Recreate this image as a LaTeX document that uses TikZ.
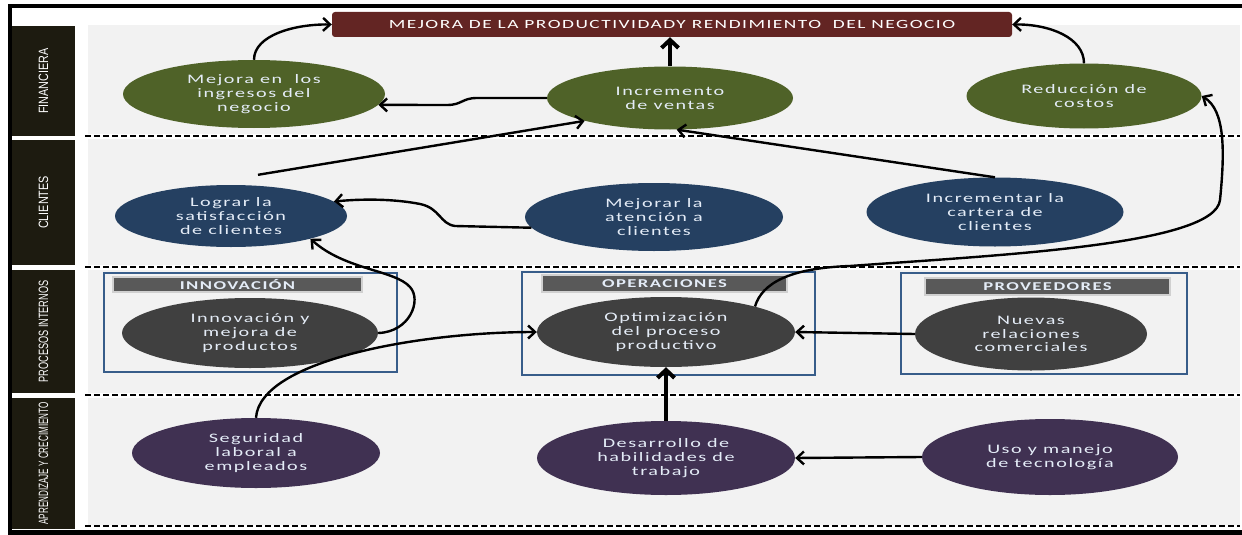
\documentclass[tikz,border=0pt]{standalone}
\usepackage{fontspec}
\setmainfont{Carlito}
\newfontfamily\efont[FakeStretch=1.55,LetterSpace=12]{Carlito}
\newfontfamily\lfont[FakeStretch=0.8]{Liberation Sans}
\usetikzlibrary{shapes.geometric,arrows.meta}
\definecolor{ctitle}{HTML}{632523}
\definecolor{cgreen}{HTML}{4F6228}
\definecolor{cblue}{HTML}{254061}
\definecolor{cgray}{HTML}{404040}
\definecolor{cpurple}{HTML}{403152}
\definecolor{clab}{HTML}{1D1B10}
\definecolor{cpanel}{HTML}{F2F2F2}
\definecolor{cbox}{HTML}{385D8A}
\definecolor{chead}{HTML}{595959}
\definecolor{cheadline}{HTML}{D0D0D0}
\definecolor{ctext}{HTML}{E4ECF7}
\tikzset{
  ell/.style={ellipse, draw=none, inner sep=0pt, text=ctext, align=center,
    font=\efont\fontsize{13}{13.8}\selectfont},
  gell/.style={ell, fill=cgreen},
  bell/.style={ell, fill=cblue},
  kell/.style={ell, fill=cgray},
  pell/.style={ell, fill=cpurple},
  lab/.style={rotate=90, fill=clab, text=white, inner sep=0pt,
    font=\lfont\fontsize{13.5}{13.5}\selectfont},
  panel/.style={fill=cpanel, draw=none},
  sep/.style={line width=2.6pt, dash pattern=on 5.5pt off 3.5pt},
  gbox/.style={draw=cbox, line width=2.6pt, fill=none, inner sep=0pt},
  ghead/.style={draw=cheadline, line width=1.5pt, fill=chead, text=ctext, inner sep=0pt,
    font=\efont\bfseries\fontsize{12}{12}\selectfont},
  ttl/.style={rounded corners=3pt, fill=ctitle, text=white, inner sep=0pt,
    font=\efont\fontsize{12.5}{13}\selectfont},
  arr/.style={line width=2.4pt, -{Straight Barb[length=7pt,width=13pt]}},
  tarr/.style={line width=4pt, -{Straight Barb[length=8pt,width=17pt]}}
}
\begin{document}
\begin{tikzpicture}[x=1pt,y=-1pt]
\useasboundingbox (0,0) rectangle (1242,535);
% frame
\fill[white] (0,0) rectangle (1242,535);
\fill[black] (8,4) rectangle (1242,8);
\fill[black] (8,4) rectangle (12,535);
\fill[black] (8,530) rectangle (1242,535);
% panels
\fill[panel] (88,25) rectangle (1240,134);
\fill[panel] (88,139) rectangle (1240,265);
\fill[panel] (88,270) rectangle (1240,393);
\fill[panel] (88,398) rectangle (1240,525);
% separators
\draw[sep] (85,136) -- (1240,136);
\draw[sep] (85,267) -- (1240,267);
\draw[sep] (85,395) -- (1240,395);
\draw[sep] (85,526) -- (1240,526);
% row labels
\node[lab, minimum width=110, minimum height=63] (l1) at (43.5,81) {FINANCIERA};
\node[lab, minimum width=125, minimum height=63] (l2) at (43.5,202.5) {CLIENTES};
\node[lab, minimum width=123, minimum height=63] (l3) at (43.5,331.5) {\scalebox{0.85}[1]{PROCESOS INTERNOS}};
\node[lab, minimum width=131, minimum height=63] (l4) at (43.5,463.5) {\scalebox{0.75}[1]{APRENDIZAJE Y CRECIMIENTO}};
% title
\node[ttl, minimum width=680, minimum height=25] (T) at (672,24.5)
  {MEJORA DE LA PRODUCTIVIDADY RENDIMIENTO\ \ DEL NEGOCIO};
% group boxes
\node[gbox, minimum width=293, minimum height=99] (g1) at (250.5,322.5) {};
\node[gbox, minimum width=293, minimum height=103] (g2) at (668.5,323.5) {};
\node[gbox, minimum width=286, minimum height=101] (g3) at (1044,323.5) {};
\node[ghead, minimum width=249, minimum height=15] (h1) at (237.5,284.5) {INNOVACIÓN};
\node[ghead, minimum width=245, minimum height=17] (h2) at (664.5,283.5) {OPERACIONES};
\node[ghead, minimum width=245, minimum height=17] (h3) at (1047.5,286.5) {PROVEEDORES};
% ellipses
\node[gell, minimum width=262, minimum height=68] (ing) at (254,94) {Mejora en\ \ los\\ingresos del\\negocio};
\node[gell, minimum width=246, minimum height=63] (ven) at (670,98) {Incremento\\de ventas};
\node[gell, minimum width=235, minimum height=65] (cos) at (1084,96) {Reducción de\\costos};
\node[bell, minimum width=232, minimum height=62] (sat) at (231,216) {Lograr la\\satisfacción\\de clientes};
\node[bell, minimum width=258, minimum height=68] (ate) at (654,217) {Mejorar la\\atención a\\clientes};
\node[bell, minimum width=257, minimum height=69] (car) at (995,212) {Incrementar la\\cartera de\\clientes};
\node[kell, minimum width=256, minimum height=70] (inn) at (250,333) {Innovación y\\mejora de\\productos};
\node[kell, minimum width=258, minimum height=70] (opt) at (666,332) {Optimización\\del proceso\\productivo};
\node[kell, minimum width=232, minimum height=73] (nue) at (1031,334) {Nuevas\\relaciones\\comerciales};
\node[pell, minimum width=248, minimum height=70] (seg) at (256,453) {Seguridad\\laboral a\\empleados};
\node[pell, minimum width=258, minimum height=74] (des) at (666,458) {Desarrollo de\\habilidades de\\trabajo};
\node[pell, minimum width=256, minimum height=76] (uso) at (1050,457) {Uso y manejo\\de tecnología};
% connectors
\draw[arr] (ing.north) .. controls (254,35) and (295,24) .. (T.west);
\draw[tarr] (ven.north) -- (ven.north |- T.south);
\draw[arr] (cos.north) .. controls (1084,38) and (1050,24) .. (T.east);
\draw[arr] (ven.west) -- (477,98) .. controls (462,98) and (462,105) .. (447,105) -- (ing.-5);
\draw[arr] ([shift={(27,-10)}]sat.north) -- (ven.195);
\draw[arr] (car.north) -- (ven.-78);
\draw[arr] (ate.185) -- (455,226) .. controls (440,224) and (440,208) .. (420,204)
  .. controls (400,200) and (370,198) .. (sat.8);
\draw[arr] (inn.east) .. controls (410,332) and (422,300) .. (410,287)
  .. controls (395,270) and (345,270) .. (sat.-16);
\draw[arr] (seg.north) .. controls (260,360) and (420,332) .. (opt.west);
\draw[arr] (opt.16) .. controls (762,283) and (790,268) .. (850,266)
  .. controls (1000,255) and (1215,245) .. (1220,200)
  .. controls (1225,150) and (1225,110) .. (cos.east);
\draw[arr] (nue.west) -- (opt.east);
\draw[tarr] (des.north) -- (opt.south);
\draw[arr] (uso.west) -- (des.east);
\end{tikzpicture}
\end{document}
